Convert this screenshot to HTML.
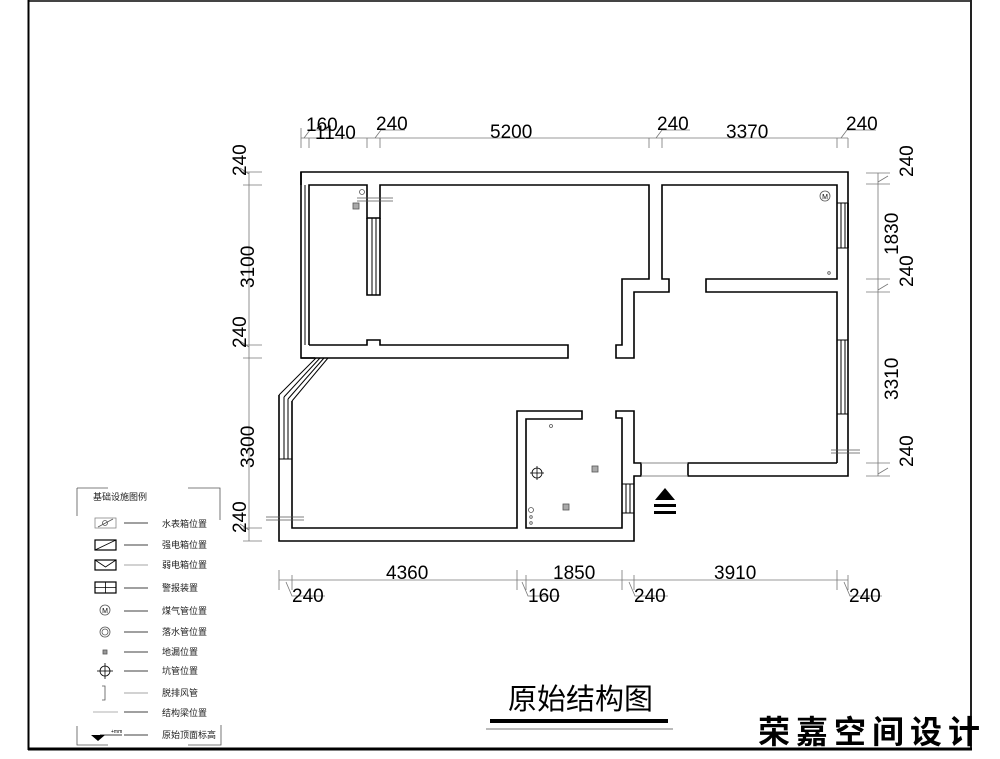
<!DOCTYPE html>
<html><head><meta charset="utf-8"><style>
html,body{margin:0;padding:0;background:#fff;}
svg{display:block;}
text{font-family:"Liberation Sans","Noto Sans CJK SC",sans-serif;}
</style></head><body>
<svg width="1000" height="759" viewBox="0 0 1000 759" xmlns="http://www.w3.org/2000/svg">
<rect width="1000" height="759" fill="#fff"/>
<line x1="28" y1="1" x2="972" y2="1" stroke="#444" stroke-width="2"/>
<line x1="28.5" y1="0" x2="28.5" y2="750" stroke="#000" stroke-width="2"/>
<line x1="971" y1="0" x2="971" y2="750" stroke="#222" stroke-width="2"/>
<line x1="28" y1="749" x2="972" y2="749" stroke="#000" stroke-width="3"/>

<g fill="none" stroke="#000" stroke-width="1.6">
<polyline points="301,185 301,172 848,172 848,476 688,476 688,463 837,463"/>
<polyline points="309,345 309,185 367,185 367,218 380,218 380,185 649,185 649,279 622,279 622,345 616,345 616,358 634,358 634,292 669,292 669,279 662,279 662,185 837,185 837,279 706,279 706,292 837,292 837,463"/>
<line x1="848" y1="203" x2="848" y2="248"/>
<polyline points="301,172 301,358 315,358"/>
<polyline points="309,345 367,345 367,340 380,340 380,345 568,345 568,358 328,358"/>
<line x1="301" y1="358" x2="328" y2="358"/>
<polyline points="367,218 367,295 380,295 380,218"/>
<polyline points="279,395 279,541 634,541 634,476 641,476 641,463 634,463 634,411 616,411 616,418 622,418 622,528 526,528 526,419 582,419 582,411 517,411 517,528 292,528 292,401"/>
</g>
<g fill="none" stroke="#000" stroke-width="1">
<line x1="305" y1="185" x2="305" y2="345"/>
<line x1="372" y1="218" x2="372" y2="295"/><line x1="376" y1="218" x2="376" y2="295"/>
<line x1="279" y1="395" x2="316" y2="358"/>
<line x1="284" y1="397" x2="320" y2="358"/>
<line x1="288" y1="399" x2="324" y2="358"/>
<line x1="292" y1="401" x2="328" y2="358"/>
<line x1="279" y1="459" x2="292" y2="459"/>
<line x1="284" y1="397" x2="284" y2="459"/><line x1="288" y1="399" x2="288" y2="459"/>
<line x1="841" y1="203" x2="841" y2="248"/><line x1="845" y1="203" x2="845" y2="248"/>
<line x1="837" y1="203" x2="848" y2="203"/><line x1="837" y1="248" x2="848" y2="248"/>
<line x1="848" y1="340" x2="848" y2="414"/>
<line x1="841" y1="340" x2="841" y2="414"/><line x1="845" y1="340" x2="845" y2="414"/>
<line x1="837" y1="340" x2="848" y2="340"/><line x1="837" y1="414" x2="848" y2="414"/>
<line x1="626" y1="484" x2="626" y2="513"/><line x1="630" y1="484" x2="630" y2="513"/>
<line x1="622" y1="484" x2="634" y2="484"/><line x1="622" y1="513" x2="634" y2="513"/>
<line x1="641" y1="463" x2="688" y2="463" stroke="#888"/><line x1="641" y1="476" x2="688" y2="476" stroke="#888"/>
</g>
<g fill="none" stroke="#555" stroke-width="0.8">
<circle cx="362" cy="192" r="2.5"/>
<line x1="357" y1="198" x2="393" y2="198"/><line x1="357" y1="201" x2="393" y2="201"/>
<rect x="353" y="203" width="6" height="6" fill="#aaa"/>
<circle cx="825" cy="196" r="5"/><circle cx="829" cy="273" r="1.3"/>
<circle cx="551" cy="426" r="1.5"/>
<circle cx="537" cy="473" r="5" stroke="#000"/><line x1="530" y1="473" x2="544" y2="473" stroke="#000"/><line x1="537" y1="466" x2="537" y2="480" stroke="#000"/>
<rect x="592" y="466" width="6" height="6" fill="#aaa"/>
<rect x="563" y="504" width="6" height="6" fill="#aaa"/>
<circle cx="531" cy="510" r="2.5"/><circle cx="531" cy="517" r="1.3"/><circle cx="531" cy="523" r="1.3"/>
<line x1="831" y1="450" x2="860" y2="450"/><line x1="831" y1="453" x2="860" y2="453"/>
<line x1="266" y1="517" x2="304" y2="517"/><line x1="266" y1="520" x2="304" y2="520"/>
</g>
<text x="825" y="199" font-size="7" text-anchor="middle">M</text>
<polygon points="665,488 655,500 675,500" fill="#000"/>
<rect x="654" y="504" width="22" height="3" fill="#000"/><rect x="654" y="511" width="22" height="3" fill="#000"/>

<g stroke="#777" stroke-width="0.8" fill="none">
<line x1="301" y1="138" x2="848" y2="138"/>
<path d="M301 128V148M309 138V148M367 138V148M380 138V148M649 138V148M662 138V148M837 138V148M848 138V148"/>
<path d="M304 138L310 130H330M375 138L381 130H405M656 138L662 130H690M841 138L847 130H876"/>
<line x1="249" y1="172" x2="249" y2="541"/>
<path d="M243 172H262M243 185H262M243 345H262M243 358H262M243 528H262M243 541H262"/>
<path d="M249 174L240 168M249 347L240 341M249 530L240 524"/>
<line x1="878" y1="173" x2="878" y2="476"/>
<path d="M866 173H890M866 184H890M866 279H890M866 292H890M866 463H890M866 476H890"/>
<path d="M878 182L888 176M878 290L888 284M878 474L888 468"/>
<line x1="279" y1="580" x2="848" y2="580"/>
<path d="M279 570V590M292 575V590M517 570V590M526 575V590M622 570V590M634 575V590M837 570V590M848 575V590"/>
<path d="M286 582L292 596H325M522 582L528 596H560M629 582L635 596H668M844 582L850 596H882"/>
</g>
<g font-size="19" fill="#000">
<text x="306" y="131">160</text><text x="315" y="139">1140</text>
<text x="376" y="130">240</text><text x="490" y="138">5200</text>
<text x="657" y="130">240</text><text x="726" y="138">3370</text>
<text x="846" y="130">240</text>
<text x="386" y="579">4360</text><text x="553" y="579">1850</text><text x="714" y="579">3910</text>
<text x="292" y="602">240</text><text x="528" y="602">160</text><text x="634" y="602">240</text><text x="849" y="602">240</text>
<text transform="translate(246,176) rotate(-90)">240</text>
<text transform="translate(254,288) rotate(-90)">3100</text>
<text transform="translate(246,348) rotate(-90)">240</text>
<text transform="translate(254,468) rotate(-90)">3300</text>
<text transform="translate(246,533) rotate(-90)">240</text>
<text transform="translate(913,177) rotate(-90)">240</text>
<text transform="translate(898,255) rotate(-90)">1830</text>
<text transform="translate(913,287) rotate(-90)">240</text>
<text transform="translate(898,400) rotate(-90)">3310</text>
<text transform="translate(913,467) rotate(-90)">240</text>
</g>

<g stroke="#555" stroke-width="0.8" fill="none">
<path d="M77 488V516M77 488H108M188 488H220V520"/>
<path d="M77 726V745H108M188 745H221V725"/>
<g stroke="#000">
<line x1="124" y1="523" x2="148" y2="523"/><line x1="124" y1="545" x2="148" y2="545"/>
<line x1="124" y1="565" x2="148" y2="565" stroke="#888"/><line x1="124" y1="588" x2="148" y2="588"/>
<line x1="124" y1="611" x2="148" y2="611"/><line x1="124" y1="632" x2="148" y2="632"/>
<line x1="124" y1="652" x2="148" y2="652"/><line x1="124" y1="671" x2="148" y2="671"/>
<line x1="124" y1="693" x2="148" y2="693" stroke="#888"/><line x1="124" y1="712" x2="148" y2="712"/>
<line x1="124" y1="735" x2="148" y2="735"/>
</g>
<rect x="95" y="518" width="21" height="10" stroke="#888"/><line x1="98" y1="527" x2="113" y2="519"/><circle cx="105" cy="523" r="2.5"/>
<rect x="95" y="540" width="21" height="10" stroke="#000" stroke-width="1.2"/><line x1="95" y1="550" x2="116" y2="540" stroke="#000"/>
<rect x="95" y="560" width="21" height="10" stroke="#000" stroke-width="1.2"/><polyline points="95,560 105.5,567 116,560" stroke="#000"/>
<rect x="95" y="582" width="21" height="11" stroke="#000" stroke-width="1.2"/><line x1="95" y1="587.5" x2="116" y2="587.5" stroke="#000"/><line x1="105.5" y1="582" x2="105.5" y2="593" stroke="#000"/>
<circle cx="105" cy="610" r="5"/><circle cx="105" cy="632" r="5"/><circle cx="105" cy="632" r="3"/>
<rect x="103" y="650" width="4" height="4" fill="#999"/>
<circle cx="105" cy="671" r="5" stroke="#000"/><line x1="97" y1="671" x2="113" y2="671" stroke="#000"/><line x1="105" y1="663" x2="105" y2="679" stroke="#000"/>
<path d="M102 686H105V700H102"/>
<line x1="93" y1="712" x2="118" y2="712" stroke="#999"/>
<line x1="100" y1="735" x2="122" y2="735" stroke="#000"/>
</g>
<polygon points="91,735 105,735 98,741" fill="#000"/>
<text x="111" y="733" font-size="5">+mm</text>
<text x="105" y="613" font-size="7" text-anchor="middle">M</text>
<g font-size="9" fill="#222">
<text x="93" y="500">基础设施图例</text>
<text x="162" y="527">水表箱位置</text><text x="162" y="548">强电箱位置</text>
<text x="162" y="568">弱电箱位置</text><text x="162" y="591">警报装置</text>
<text x="162" y="614">煤气管位置</text><text x="162" y="635">落水管位置</text>
<text x="162" y="655">地漏位置</text><text x="162" y="674">坑管位置</text>
<text x="162" y="696">脱排风管</text><text x="162" y="716">结构梁位置</text>
<text x="162" y="738">原始顶面标高</text>
</g>

<text x="508" y="709" font-size="29" fill="#000">原始结构图</text>
<rect x="490" y="719" width="178" height="4" fill="#000"/>
<line x1="486" y1="729" x2="673" y2="729" stroke="#777" stroke-width="1"/>
<text x="758" y="743" font-size="32" fill="#000" font-family="'Noto Serif CJK SC','Noto Sans CJK SC',serif" font-weight="bold" letter-spacing="6">荣嘉空间设计</text>
</svg>
</body></html>
